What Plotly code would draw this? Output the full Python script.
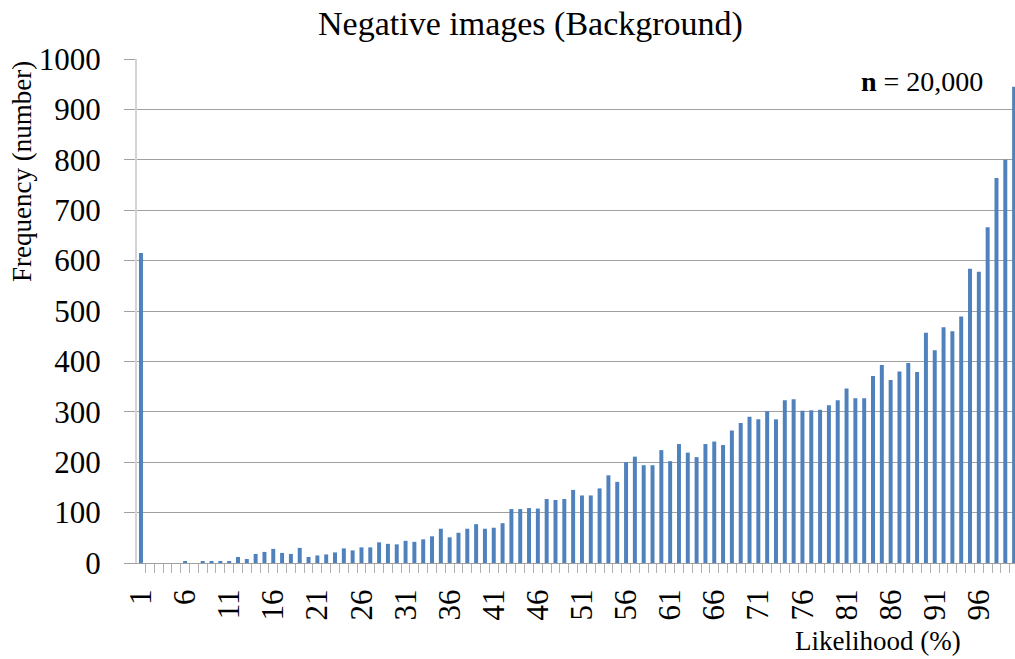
import plotly.graph_objects as go

# Likelihood bins (1..100 %) and the number of negative images in each bin
likelihood = list(range(1, 101))
frequency = [
    615, 0, 0, 0, 0, 2, 0, 2, 3, 2,
    3, 12, 8, 18, 22, 28, 20, 18, 30, 12,
    15, 17, 21, 29, 25, 31, 31, 41, 38, 37,
    44, 42, 47, 53, 68, 51, 60, 68, 77, 68,
    70, 79, 107, 107, 109, 108, 127, 125, 127, 145,
    134, 134, 148, 174, 161, 200, 211, 194, 194, 224,
    202, 236, 219, 210, 236, 241, 234, 263, 278, 290,
    285, 301, 285, 323, 325, 302, 303, 304, 313, 323,
    346, 327, 327, 371, 393, 363, 380, 397, 379, 457,
    422, 468, 460, 489, 584, 578, 666, 764, 800, 945,
]
x_tick_labels = list(range(1, 100, 5))
y_ticks = list(range(0, 1001, 100))

SERIF = "Liberation Serif, Times New Roman, serif"
W, H = 1015, 659
L, R, T, B = 137, 0, 59, 96

fig = go.Figure(
    go.Bar(
        x=likelihood,
        y=frequency,
        width=0.45,
        marker=dict(color="#4f81bd", line=dict(width=0)),
    )
)

fig.update_layout(
    width=W,
    height=H,
    margin=dict(l=L, r=R, t=T, b=B, pad=0),
    paper_bgcolor="white",
    plot_bgcolor="white",
    showlegend=False,
    font=dict(family=SERIF, color="black"),
    title=dict(
        text="Negative images (Background)",
        font=dict(family=SERIF, size=34, color="black"),
        x=530.5 / W,
        xanchor="center",
        xref="container",
        y=1 - 23 / H,
        yanchor="middle",
        yref="container",
    ),
)

fig.update_xaxes(
    range=[0.55, 100.1],
    tickmode="array",
    tickvals=x_tick_labels,
    ticktext=[str(v) for v in x_tick_labels],
    tickangle=-90,
    ticks="",
    ticklabelstandoff=13,
    tickfont=dict(family=SERIF, size=31, color="black"),
    showgrid=False,
    zeroline=False,
    showline=True,
    linecolor="#a0a0a0",
    linewidth=1,
    minor=dict(
        tickmode="linear",
        tick0=0.5,
        dtick=1,
        ticks="outside",
        ticklen=9,
        tickcolor="#b0b0b0",
        tickwidth=1,
        showgrid=False,
    ),
)

fig.update_yaxes(
    range=[0, 1000],
    tickmode="array",
    tickvals=y_ticks,
    ticks="outside",
    ticklen=11,
    tickcolor="#a0a0a0",
    ticklabelstandoff=17,
    tickfont=dict(family=SERIF, size=31, color="black"),
    showgrid=True,
    gridcolor="#a0a0a0",
    gridwidth=1,
    zeroline=False,
    showline=True,
    linecolor="#d4d4d4",
    linewidth=2,
)

# Axis titles and sample-size note, placed in pixel-derived paper coordinates
def px_x(px):
    return (px - L) / (W - L - R)

def px_y(py):
    return (H - B - py) / (H - T - B)

fig.add_annotation(
    text="Frequency (number)",
    textangle=-90,
    x=px_x(22), y=px_y(172),
    xref="paper", yref="paper",
    xanchor="center", yanchor="middle",
    showarrow=False,
    font=dict(family=SERIF, size=27, color="black"),
)
fig.add_annotation(
    text="Likelihood (%)",
    x=px_x(878), y=px_y(641),
    xref="paper", yref="paper",
    xanchor="center", yanchor="middle",
    showarrow=False,
    font=dict(family=SERIF, size=27, color="black"),
)
fig.add_annotation(
    text="<b>n</b> = 20,000",
    x=px_x(922), y=px_y(82),
    xref="paper", yref="paper",
    xanchor="center", yanchor="middle",
    showarrow=False,
    font=dict(family=SERIF, size=28, color="black"),
)

fig.write_html("out.html")
